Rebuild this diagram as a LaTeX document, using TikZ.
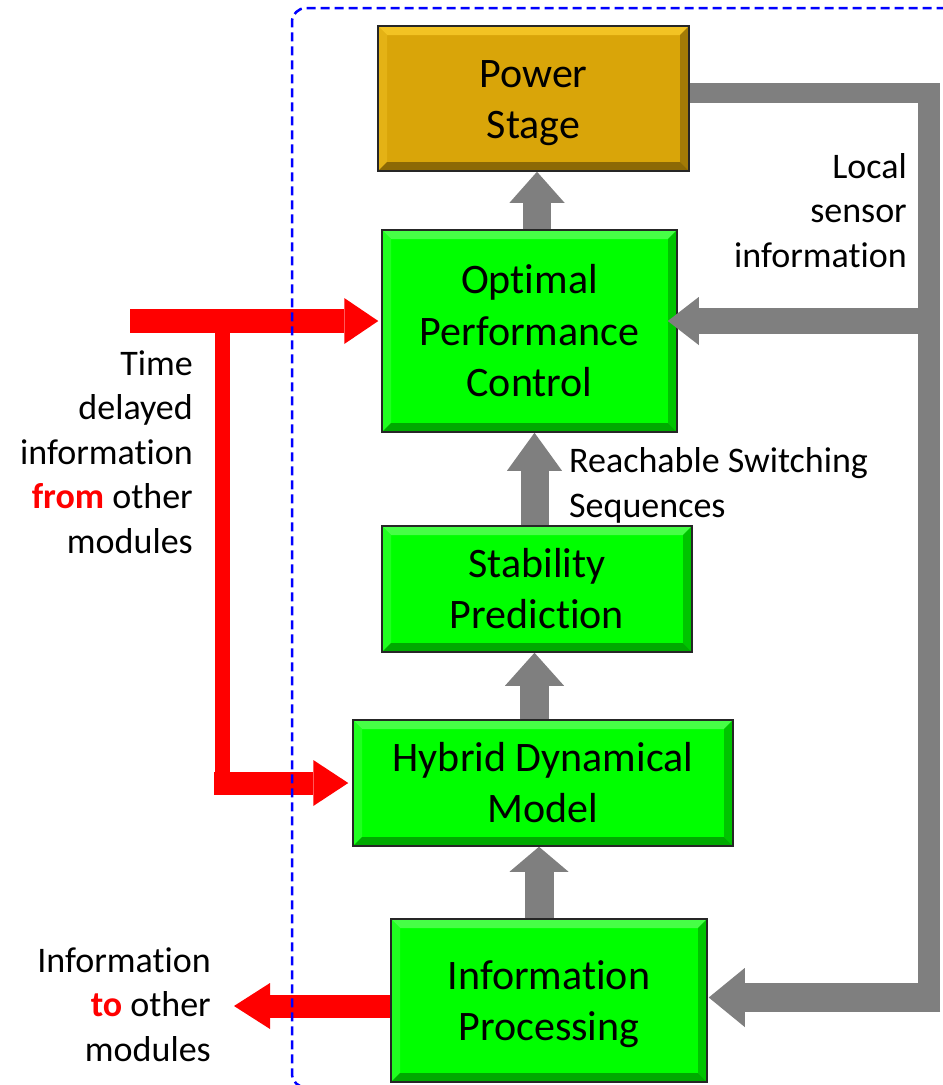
\documentclass[tikz,border=0pt]{standalone}
\usepackage{fontspec}
\setmainfont{Carlito}[Ligatures=NoCommon]
\usetikzlibrary{arrows.meta}
\definecolor{gold}{RGB}{217,165,9}
\definecolor{goldlt}{RGB}{242,195,35}
\definecolor{golddk}{RGB}{140,105,5}
\definecolor{grn}{RGB}{0,255,0}
\definecolor{grnlt}{RGB}{70,255,70}
\definecolor{grndk}{RGB}{0,170,0}
\definecolor{fbgray}{RGB}{127,127,127}
\definecolor{rd}{RGB}{255,0,0}
\definecolor{bdr}{RGB}{0,0,255}
\newcommand\bxstrut{\rule[-0.27em]{0pt}{1.22em}}
\tikzset{
  bevelbox/.style n args={3}{draw=black!85, line width=1.5pt, fill=#1, inner sep=0pt,
    font=\fontsize{42}{51.3}\selectfont, align=center,
    path picture={
      \fill[#2] (path picture bounding box.north west) -- (path picture bounding box.north east)
        -- ([xshift=-9pt,yshift=-9pt]path picture bounding box.north east)
        -- ([xshift=9pt,yshift=-9pt]path picture bounding box.north west) -- cycle;
      \fill[#2!45!#1] (path picture bounding box.north west) -- (path picture bounding box.south west)
        -- ([xshift=9pt,yshift=9pt]path picture bounding box.south west)
        -- ([xshift=9pt,yshift=-9pt]path picture bounding box.north west) -- cycle;
      \fill[#3!70!#1] (path picture bounding box.north east) -- (path picture bounding box.south east)
        -- ([xshift=-9pt,yshift=9pt]path picture bounding box.south east)
        -- ([xshift=-9pt,yshift=-9pt]path picture bounding box.north east) -- cycle;
      \fill[#3] (path picture bounding box.south west) -- (path picture bounding box.south east)
        -- ([xshift=-9pt,yshift=9pt]path picture bounding box.south east)
        -- ([xshift=9pt,yshift=9pt]path picture bounding box.south west) -- cycle;
    }},
  greenbox/.style={bevelbox={grn}{grnlt}{grndk}},
  goldbox/.style={bevelbox={gold}{goldlt}{golddk}},
  lbl/.style={font=\fontsize{36}{44.5}\selectfont, inner sep=0pt},
  garrow/.style n args={3}{color=fbgray, line width=#1,
    -{Triangle[width=#2,length=#3,line width=0pt]}},
  rarrow/.style n args={3}{color=rd, line width=#1,
    -{Triangle[width=#2,length=#3,line width=0pt]}},
  fbline/.style={color=fbgray},
  rline/.style={color=rd},
  border/.style={draw=bdr, line width=2.5pt, dash pattern=on 9pt off 5pt, rounded corners=14pt}
}
\begin{document}
\begin{tikzpicture}[x=1pt,y=-1pt]
\useasboundingbox (0,0) rectangle (943,1085);

% boxes
\node[goldbox, minimum width=311pt, minimum height=145pt] (ps) at (533.5,98.5) {\bxstrut Power\\\bxstrut Stage};
\node[greenbox, minimum width=295pt, minimum height=202pt] (opc) at (529.5,331) {\bxstrut Optimal\\\bxstrut Performance\\\bxstrut Control};
\node[greenbox, minimum width=310pt, minimum height=126pt] (sp) at (537,589) {\bxstrut Stability\\\bxstrut Prediction};
\node[greenbox, minimum width=380pt, minimum height=126pt] (hm) at (543,783) {\bxstrut Hybrid Dynamical\\\bxstrut Model};
\node[greenbox, minimum width=316pt, minimum height=163pt] (ip) at (549,1000.5) {\bxstrut Information\\\bxstrut Processing};

% labels (anchored at the baseline of their last line)
\node[lbl, align=right, anchor=base east] (tl) at (193,553) {Time\\delayed\\information\\{\color{rd}\bfseries from} other\\modules};
\node[lbl, align=right, anchor=base east] (ol) at (211,1061) {Information\\{\color{rd}\bfseries to} other\\modules};
\node[lbl, align=right, anchor=base east] (sl) at (907,267) {Local\\sensor\\information};
\node[lbl, align=left, anchor=base west] (rl) at (569,517) {Reachable Switching\\Sequences};

% helper coordinates
\coordinate (xa) at (537,0);
\coordinate (xb) at (534.5,0);
\coordinate (xc) at (534.5,0);
\coordinate (xd) at (539,0);
\coordinate (gtr) at (940,93);
\coordinate (gv1) at (929,83);
\coordinate (gv2) at (929,1012);
\coordinate (gb1) at (929,321);
\coordinate (gb2) at (940,997.5);
\coordinate (rin) at (130,321);
\coordinate (rj1) at (222,321);
\coordinate (rj2) at (222,794);
\coordinate (rb) at (214,783);
\coordinate (rout) at (234,1006);

% vertical flow arrows
\draw[garrow={28pt}{55pt}{31pt}] (opc.north -| xa) -- (ps.south -| xa);
\draw[garrow={28pt}{55pt}{38pt}] (sp.north -| xb) -- (opc.south -| xb);
\draw[garrow={29pt}{59pt}{33pt}] (hm.north -| xc) -- (sp.south -| xc);
\draw[garrow={29pt}{59pt}{25pt}] (ip.north -| xd) -- (hm.south -| xd);

% feedback (local sensor information)
\draw[fbline, line width=20pt] ([yshift=5.5pt]ps.east) -- (gtr);
\draw[fbline, line width=22pt] (gv1) -- (gv2);
\draw[garrow={26pt}{48pt}{31pt}] (gb1) -- ([xshift=-10pt,yshift=10pt]opc.east);
\draw[garrow={29pt}{59pt}{36pt}] (gb2) -- ([xshift=1pt,yshift=3pt]ip.east);

% red information arrows
\draw[rarrow={24pt}{46pt}{34pt}] (rin) -- ([xshift=-3pt,yshift=10pt]opc.west);
\draw[rline, line width=15pt] (rj1) -- (rj2);
\draw[rarrow={23pt}{46pt}{35pt}] (rb) -- ([xshift=-4pt]hm.west);
\draw[rarrow={23pt}{46pt}{36pt}] ([yshift=-5.5pt]ip.west) -- (rout);

% module border
\draw[border] (960,1087.5) -- (292,1087.5) -- (292,8) -- (960,8);
\end{tikzpicture}
\end{document}
